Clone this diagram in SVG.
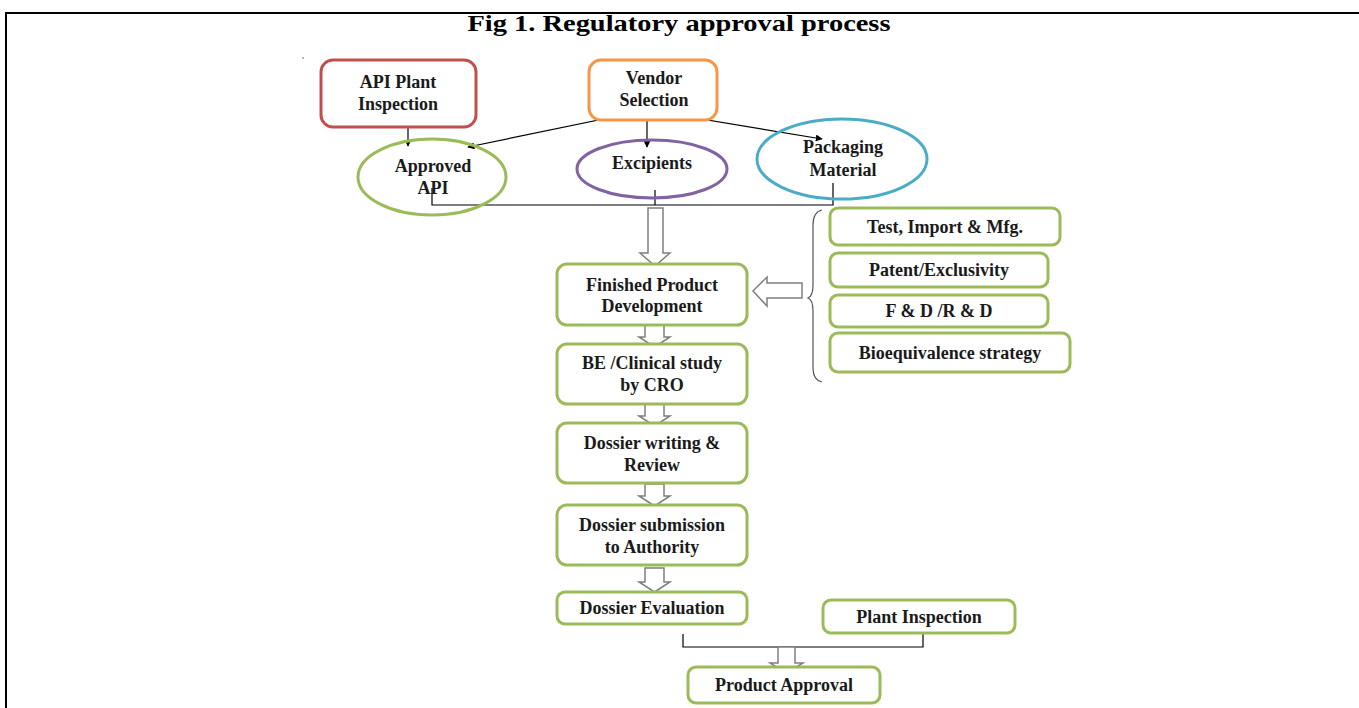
<svg xmlns="http://www.w3.org/2000/svg" width="1359" height="708" viewBox="0 0 1359 708">
<defs>
<style>
text{font-family:"Liberation Serif","Times New Roman",serif;font-weight:bold;font-size:18px;fill:#1a1a1a;text-anchor:middle}
.title{font-size:24px;fill:#000}
.g{fill:#fff;stroke:#9bbb59;stroke-width:3}
.ln{fill:none;stroke:#000;stroke-width:1.2}
.blk{fill:#fff;stroke:#7f7f7f;stroke-width:1.5}
</style>
<marker id="ah" viewBox="0 0 10 10" refX="9" refY="5" markerWidth="7" markerHeight="7" orient="auto" markerUnits="userSpaceOnUse"><path d="M0,0 L10,5 L0,10 z" fill="#000"/></marker>
</defs>
<rect width="1359" height="708" fill="#fff"/>
<path d="M6,708 L6,13 L1359,13" fill="none" stroke="#000" stroke-width="2"/>
<text class="title" x="679" y="31" textLength="423" lengthAdjust="spacingAndGlyphs">Fig 1. Regulatory approval process</text>
<circle cx="303" cy="58" r="0.8" fill="#555"/>

<g id="connectors">
<line class="ln" x1="408" y1="118" x2="408" y2="146" marker-end="url(#ah)"/>
<line class="ln" x1="647" y1="110" x2="468" y2="147" marker-end="url(#ah)"/>
<line class="ln" x1="647" y1="110" x2="647" y2="147" marker-end="url(#ah)"/>
<line class="ln" x1="647" y1="110" x2="822" y2="139" marker-end="url(#ah)"/>
<polyline class="ln" points="432,188 432,205 833,205 833,183"/>
<line class="ln" x1="655" y1="190" x2="655" y2="205"/>
<path class="blk" d="M648,208 L663,208 L663,253 L670,253 L655,266 L640,253 L648,253 Z"/>
<path class="blk" d="M802,283 L767,283 L767,277 L753,291 L767,306 L767,298 L802,298 Z"/>
<path class="blk" d="M645,325 L664,325 L664,337 L670,337 L654.5,347 L639,337 L645,337 Z"/>
<path class="blk" d="M645,404 L664,404 L664,416 L670,416 L654.5,426 L639,416 L645,416 Z"/>
<path class="blk" d="M645,484 L664,484 L664,496 L670,496 L654.5,506 L639,496 L645,496 Z"/>
<path class="blk" d="M645,568 L664,568 L664,582 L670,582 L654.5,592 L639,582 L645,582 Z"/>
<polyline class="ln" points="683,634 683,647 923,647 923,633"/>
<path class="blk" d="M778,647 L795,647 L795,663 L803,663 L786.5,673 L770,663 L778,663 Z"/>
<path d="M822,210 Q813,212 813,225 L813,285 Q813,296 808,298 Q813,300 813,311 L813,368 Q813,380 822,382" fill="none" stroke="#555" stroke-width="1.2"/>
</g>

<g id="api-plant-inspection">
<rect x="321" y="60" width="155" height="67" rx="12" fill="#fff" stroke="#c0504d" stroke-width="3"/>
<text x="398" y="88">API Plant</text>
<text x="398" y="110">Inspection</text>
</g>
<g id="vendor-selection">
<rect x="589" y="60" width="128" height="60" rx="12" fill="#fff" stroke="#f79646" stroke-width="3"/>
<text x="654" y="84">Vendor</text>
<text x="654" y="106">Selection</text>
</g>
<g id="approved-api">
<ellipse cx="432" cy="177" rx="74" ry="38" fill="none" stroke="#9bbb59" stroke-width="3"/>
<text x="433" y="172">Approved</text>
<text x="433" y="194">API</text>
</g>
<g id="excipients">
<ellipse cx="652" cy="169" rx="75" ry="29" fill="none" stroke="#8064a2" stroke-width="3"/>
<text x="652" y="169">Excipients</text>
</g>
<g id="packaging-material">
<ellipse cx="842" cy="159" rx="85" ry="40" fill="none" stroke="#4bacc6" stroke-width="3"/>
<text x="843" y="153">Packaging</text>
<text x="843" y="176">Material</text>
</g>
<g id="finished-product-development">
<rect class="g" x="557" y="264" width="190" height="61" rx="10"/>
<text x="652" y="291">Finished Product</text>
<text x="652" y="312">Development</text>
</g>
<g id="test-import-mfg">
<rect class="g" x="830" y="208" width="230" height="37" rx="8"/>
<text x="945" y="233">Test, Import &amp; Mfg.</text>
</g>
<g id="patent-exclusivity">
<rect class="g" x="830" y="253" width="218" height="34" rx="8"/>
<text x="939" y="276">Patent/Exclusivity</text>
</g>
<g id="fd-rd">
<rect class="g" x="830" y="295" width="218" height="32" rx="8"/>
<text x="939" y="317">F &amp; D /R &amp; D</text>
</g>
<g id="bioequivalence-strategy">
<rect class="g" x="830" y="333" width="240" height="39" rx="8"/>
<text x="950" y="359">Bioequivalence strategy</text>
</g>
<g id="be-clinical-study">
<rect class="g" x="557" y="344" width="190" height="60" rx="10"/>
<text x="652" y="369">BE /Clinical study</text>
<text x="652" y="391">by CRO</text>
</g>
<g id="dossier-writing">
<rect class="g" x="557" y="423" width="190" height="60" rx="10"/>
<text x="652" y="449">Dossier writing &amp;</text>
<text x="652" y="471">Review</text>
</g>
<g id="dossier-submission">
<rect class="g" x="557" y="505" width="190" height="60" rx="10"/>
<text x="652" y="531">Dossier submission</text>
<text x="652" y="553">to Authority</text>
</g>
<g id="dossier-evaluation">
<rect class="g" x="557" y="592" width="190" height="32" rx="8"/>
<text x="652" y="614">Dossier Evaluation</text>
</g>
<g id="plant-inspection">
<rect class="g" x="823" y="600" width="192" height="33" rx="8"/>
<text x="919" y="623">Plant Inspection</text>
</g>
<g id="product-approval">
<rect class="g" x="688" y="667" width="192" height="36" rx="8"/>
<text x="784" y="691">Product Approval</text>
</g>
</svg>
